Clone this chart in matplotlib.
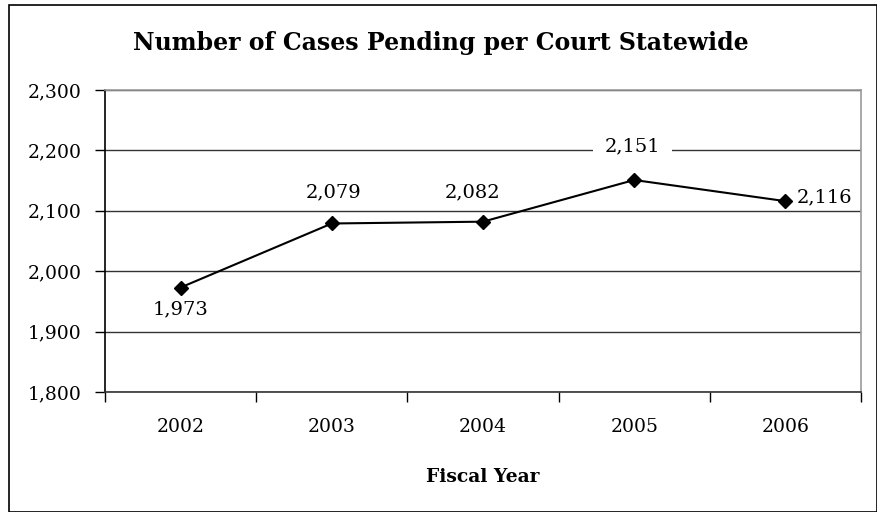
import matplotlib
matplotlib.use('Agg')
import matplotlib.pyplot as plt
from matplotlib.patches import Rectangle
from matplotlib.ticker import FuncFormatter

years = ['2002', '2003', '2004', '2005', '2006']
pending = [1973, 2079, 2082, 2151, 2116]
y_ticks = [1800, 1900, 2000, 2100, 2200, 2300]

# label placement per point (offset in pixels, horizontal alignment, box padding)
label_offsets = [(0, -22), (2, 31), (-10, 29), (-2, 34), (11, 4)]
label_ha = ['center', 'center', 'center', 'center', 'left']
label_pad = [0.15, 0.3, 0.3, 0.6, 0.15]

plt.rcParams['font.family'] = 'DejaVu Serif'

W, H = 878, 512
fig = plt.figure(figsize=(W / 100, H / 100), dpi=100)

# outer frame
fig.patches.append(Rectangle((9 / W, 0), (877 - 9) / W, 1 - 5 / H, transform=fig.transFigure,
                             fill=False, edgecolor='black', linewidth=1.2))

left, right, top, bottom = 105, 861, 90, 392
ax = fig.add_axes([left / W, 1 - bottom / H, (right - left) / W, (bottom - top) / H])

x = list(range(len(years)))
ax.plot(x, pending, color='black', linewidth=1.5, marker='D', markersize=7,
        markerfacecolor='black', zorder=5)

ax.set_xlim(-0.5, len(years) - 0.5)
ax.set_ylim(y_ticks[0], y_ticks[-1])
ax.set_yticks(y_ticks)
ax.yaxis.set_major_formatter(FuncFormatter(lambda v, p: f'{int(v):,}'))
ax.yaxis.grid(True, color='#333333', linewidth=1)
ax.set_axisbelow(True)

ax.set_xticks(x)
ax.set_xticklabels(years)
ax.set_xticks([i - 0.5 for i in range(len(years) + 1)], minor=True)
ax.tick_params(axis='x', which='major', length=0, pad=19, labelsize=13.5)
ax.tick_params(axis='x', which='minor', length=7, width=1, direction='out')
ax.tick_params(axis='y', length=7, width=1, direction='out', pad=10, labelsize=13.5)

ax.spines['left'].set_color('black')
ax.spines['bottom'].set_color('#333333')
ax.spines['top'].set_color('#999999')
ax.spines['right'].set_color('#999999')
for s in ax.spines.values():
    s.set_linewidth(1.2)

for i, v in enumerate(pending):
    ax.annotate(f'{v:,}', (x[i], v), xytext=label_offsets[i], textcoords='offset pixels',
                ha=label_ha[i], va='center', fontsize=14, zorder=4,
                bbox=dict(boxstyle=f'square,pad={label_pad[i]}', facecolor='white', edgecolor='none'))

fig.text(441 / W, 1 - 43 / H, 'Number of Cases Pending per Court Statewide',
         ha='center', va='center', fontsize=17, fontweight='bold')
fig.text(483 / W, 1 - 477 / H, 'Fiscal Year', ha='center', va='center',
         fontsize=13.5, fontweight='bold')

fig.savefig('out.png', dpi=100)
